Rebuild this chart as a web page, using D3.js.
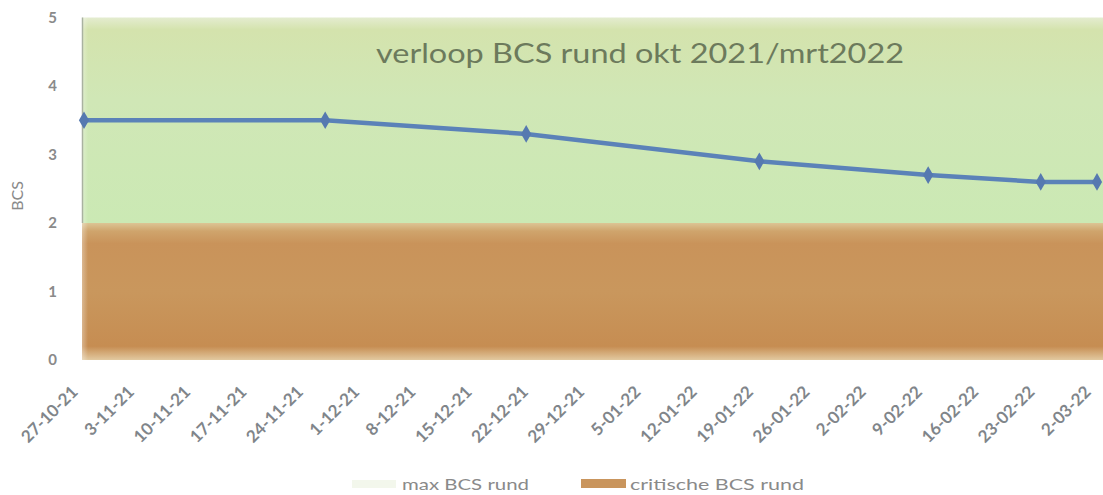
<!DOCTYPE html>
<html>
<head>
<meta charset="utf-8">
<script src="https://cdn.jsdelivr.net/npm/d3@7"></script>
<style>
  body { margin: 0; background: #fff; }
  svg { display: block; font-family: "Lato", "Open Sans", sans-serif; }
</style>
</head>
<body>
<div id="chart"></div>
<script>
// measurement dates and BCS score
const dates = ["27-10-21", "26-11-21", "21-12-21", "19-01-22", "9-02-22", "23-02-22", "2-03-22"];
const bcsValues = [3.5, 3.5, 3.3, 2.9, 2.7, 2.6, 2.6];
// band series (stacked areas)
const critBcs = [2, 2, 2, 2, 2, 2, 2];
const maxBcs = [5, 5, 5, 5, 5, 5, 5];
// axis ticks
const yTicks = [0, 1, 2, 3, 4, 5];
const xTickLabels = ["27-10-21", "3-11-21", "10-11-21", "17-11-21", "24-11-21", "1-12-21", "8-12-21",
    "15-12-21", "22-12-21", "29-12-21", "5-01-22", "12-01-22", "19-01-22", "26-01-22", "2-02-22",
    "9-02-22", "16-02-22", "23-02-22", "2-03-22"];

const W = 1103, H = 495;
const parse = d3.timeParse("%d-%m-%y");

const svg = d3.select("#chart").append("svg")
    .attr("width", W)
    .attr("height", H);

const defs = svg.append("defs");

const gGreen = defs.append("linearGradient").attr("id", "gGreen")
    .attr("x1", 0).attr("y1", 0).attr("x2", 0).attr("y2", 1);
gGreen.append("stop").attr("offset", "0%").attr("stop-color", "#e4ecd0");
gGreen.append("stop").attr("offset", "6%").attr("stop-color", "#d4e3ad");
gGreen.append("stop").attr("offset", "40%").attr("stop-color", "#d0e7b6");
gGreen.append("stop").attr("offset", "100%").attr("stop-color", "#cbe9b4");

const gOrange = defs.append("linearGradient").attr("id", "gOrange")
    .attr("x1", 0).attr("y1", 0).attr("x2", 0).attr("y2", 1);
gOrange.append("stop").attr("offset", "0%").attr("stop-color", "#dcc595");
gOrange.append("stop").attr("offset", "6%").attr("stop-color", "#cfa46c");
gOrange.append("stop").attr("offset", "15%").attr("stop-color", "#c9935a");
gOrange.append("stop").attr("offset", "50%").attr("stop-color", "#c9975d");
gOrange.append("stop").attr("offset", "90%").attr("stop-color", "#c68d52");
gOrange.append("stop").attr("offset", "100%").attr("stop-color", "#e2c9a0");

const gLeft = defs.append("linearGradient").attr("id", "gLeft")
    .attr("x1", 0).attr("y1", 0).attr("x2", 1).attr("y2", 0);
gLeft.append("stop").attr("offset", "0%").attr("stop-color", "#fff").attr("stop-opacity", 1);
gLeft.append("stop").attr("offset", "100%").attr("stop-color", "#fff").attr("stop-opacity", 0);

// scales
const x = d3.scaleTime()
    .domain([parse(dates[0]), parse(dates[dates.length - 1])])
    .range([84, 1097]);

const y = d3.scaleLinear()
    .domain([0, 5])
    .range([360, 17.5]);

const data = dates.map((d, i) => ({
    date: parse(d), bcs: bcsValues[i], crit: critBcs[i], max: maxBcs[i]
}));

// band areas, stretched to the plot edges
const plotLeft = 82, plotRight = W + 10;
const ext = [{ ...data[0], px: plotLeft }, ...data.map(d => ({ ...d, px: x(d.date) })),
    { ...data[data.length - 1], px: plotRight }];

svg.append("path")
    .datum(ext)
    .attr("fill", "url(#gGreen)")
    .attr("d", d3.area().x(d => d.px).y0(d => y(d.crit)).y1(d => y(d.max)));

svg.append("path")
    .datum(ext)
    .attr("fill", "url(#gOrange)")
    .attr("d", d3.area().x(d => d.px).y0(y(0)).y1(d => y(d.crit)));

// soft white fade on the left edge of the plot
svg.append("rect")
    .attr("x", 70).attr("y", 0).attr("width", 18).attr("height", 380)
    .attr("fill", "url(#gLeft)");

// y axis line
svg.append("line")
    .attr("x1", 82.5).attr("x2", 82.5)
    .attr("y1", y(5)).attr("y2", y(2))
    .attr("stroke", "#a9b2a0").attr("stroke-width", 1.5);

// y tick labels
svg.selectAll(".ytick")
    .data(yTicks)
    .enter().append("text")
    .attr("class", "ytick")
    .attr("x", 57)
    .attr("y", d => y(d) + 5)
    .attr("text-anchor", "end")
    .attr("font-size", 15)
    .attr("font-weight", "bold")
    .attr("fill", "#8a8a8a")
    .text(d => d);

// y axis title
svg.append("text")
    .attr("transform", "translate(23,196) rotate(-90)")
    .attr("text-anchor", "middle")
    .attr("font-size", 16)
    .attr("fill", "#8a8a8a")
    .text("BCS");

// x tick labels (rotated)
svg.selectAll(".xtick")
    .data(xTickLabels)
    .enter().append("text")
    .attr("class", "xtick")
    .attr("transform", d => `translate(${x(parse(d)) - 5},393) rotate(-45)`)
    .attr("text-anchor", "end")
    .attr("font-size", 17)
    .attr("font-weight", "bold")
    .attr("fill", "#80858a")
    .text(d => d);

// BCS line
svg.append("path")
    .datum(data)
    .attr("fill", "none")
    .attr("stroke", "#5b82b8")
    .attr("stroke-width", 4.5)
    .attr("d", d3.line().x(d => x(d.date)).y(d => y(d.bcs)));

svg.selectAll(".marker")
    .data(data)
    .enter().append("path")
    .attr("class", "marker")
    .attr("transform", d => `translate(${x(d.date)},${y(d.bcs)})`)
    .attr("fill", "#5679b0")
    .attr("d", d3.symbol().type(d3.symbolDiamond).size(90));

// title
svg.append("text")
    .attr("x", 640)
    .attr("y", 63)
    .attr("text-anchor", "middle")
    .attr("font-size", 26)
    .attr("fill", "#6c7a5c")
    .attr("textLength", 528)
    .attr("lengthAdjust", "spacingAndGlyphs")
    .text("verloop BCS rund okt 2021/mrt2022");

// legend
const legend = svg.append("g").attr("font-size", 16).attr("fill", "#8a8a8a");
legend.append("rect")
    .attr("x", 352).attr("y", 480).attr("width", 44).attr("height", 8)
    .attr("fill", "#f3f7ec");
legend.append("text").attr("x", 402).attr("y", 490)
    .attr("textLength", 127).attr("lengthAdjust", "spacingAndGlyphs")
    .text("max BCS rund");
legend.append("rect")
    .attr("x", 581).attr("y", 479).attr("width", 45).attr("height", 9)
    .attr("fill", "#c9955d");
legend.append("text").attr("x", 630).attr("y", 490)
    .attr("textLength", 174).attr("lengthAdjust", "spacingAndGlyphs")
    .text("critische BCS rund");
</script>
</body>
</html>
